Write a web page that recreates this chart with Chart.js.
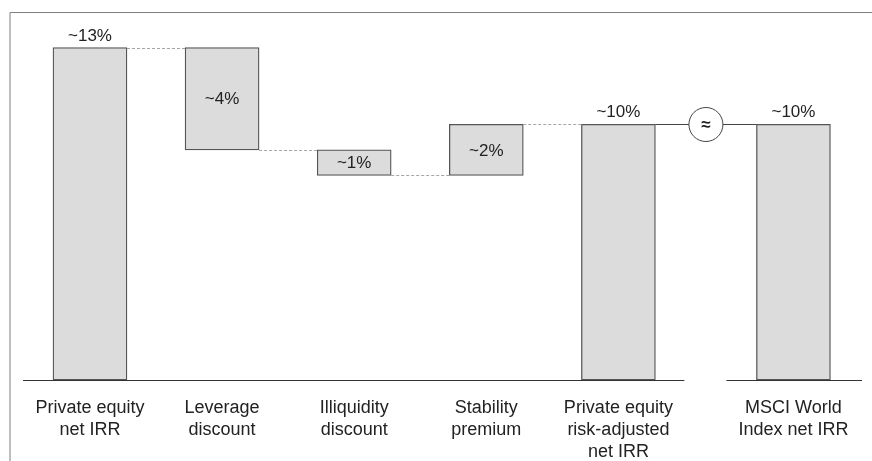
<!DOCTYPE html>
<html>
<head>
<meta charset="utf-8">
<script src="https://cdn.jsdelivr.net/npm/chart.js@4.4.1/dist/chart.umd.min.js"></script>
<style>
  html, body { margin: 0; padding: 0; background: #fff; }
  #wrap { width: 872px; height: 461px; }
</style>
</head>
<body>
<div id="wrap"><canvas id="irrChart" width="872" height="461"></canvas></div>
<script>
const categories = [
  ['Private equity', 'net IRR'],
  ['Leverage', 'discount'],
  ['Illiquidity', 'discount'],
  ['Stability', 'premium'],
  ['Private equity', 'risk-adjusted', 'net IRR'],
  ['MSCI World', 'Index net IRR']
];
// x position of each bar (the MSCI bar sits a bit further out)
const positions = [0, 1, 2, 3, 4, 5.325];
const barStarts = [0, 13, 9, 8, 0, 0];
const barEnds = [13, 9, 8, 10, 10, 10];
const valueLabels = ['~13%', '~4%', '~1%', '~2%', '~10%', '~10%'];
const labelInside = [false, true, true, true, false, false];

const FONT = '"Liberation Sans", Arial, sans-serif';

const waterfallExtras = {
  id: 'waterfallExtras',
  beforeDraw(chart) {
    const ctx = chart.ctx;
    // thin frame at top and left
    ctx.save();
    ctx.strokeStyle = '#7f7f7f';
    ctx.lineWidth = 1;
    ctx.beginPath();
    ctx.moveTo(10, 461);
    ctx.lineTo(10, 12.5);
    ctx.lineTo(872, 12.5);
    ctx.stroke();
    ctx.restore();
  },
  afterDatasetsDraw(chart) {
    const ctx = chart.ctx;
    const y = chart.scales.y;
    const bars = chart.getDatasetMeta(0).data;
    const left = i => bars[i].x - bars[i].width / 2;
    const right = i => bars[i].x + bars[i].width / 2;
    ctx.save();

    // dashed connectors between steps
    ctx.strokeStyle = '#a6a6a6';
    ctx.lineWidth = 1;
    ctx.setLineDash([3, 2]);
    for (let i = 0; i < 4; i++) {
      const py = Math.round(y.getPixelForValue(barEnds[i])) + 0.5;
      ctx.beginPath();
      ctx.moveTo(right(i), py);
      ctx.lineTo(left(i + 1), py);
      ctx.stroke();
    }
    ctx.setLineDash([]);

    // baseline, broken before the benchmark bar
    const by = Math.round(y.getPixelForValue(0)) + 0.5;
    ctx.strokeStyle = '#333';
    ctx.lineWidth = 1.2;
    ctx.beginPath();
    ctx.moveTo(chart.chartArea.left, by);
    ctx.lineTo(right(4) + 29, by);
    ctx.moveTo(left(5) - 30, by);
    ctx.lineTo(chart.chartArea.right, by);
    ctx.stroke();

    // "approximately equal" link
    const ly = Math.round(y.getPixelForValue(barEnds[4])) + 0.5;
    const cx = (right(4) + left(5)) / 2;
    ctx.strokeStyle = '#444';
    ctx.lineWidth = 1;
    ctx.beginPath();
    ctx.moveTo(right(4), ly);
    ctx.lineTo(left(5), ly);
    ctx.stroke();
    ctx.beginPath();
    ctx.arc(cx, ly, 17, 0, Math.PI * 2);
    ctx.fillStyle = '#fff';
    ctx.fill();
    ctx.stroke();
    ctx.fillStyle = '#222';
    ctx.font = 'bold 17px ' + FONT;
    ctx.textAlign = 'center';
    ctx.textBaseline = 'middle';
    ctx.fillText('\u2248', cx, ly + 1);

    // value labels
    ctx.font = '17px ' + FONT;
    ctx.fillStyle = '#222';
    bars.forEach((bar, i) => {
      if (labelInside[i]) {
        const mid = (y.getPixelForValue(barStarts[i]) + y.getPixelForValue(barEnds[i])) / 2;
        ctx.textBaseline = 'middle';
        ctx.fillText(valueLabels[i], bar.x, mid + 1);
      } else {
        ctx.textBaseline = 'alphabetic';
        ctx.fillText(valueLabels[i], bar.x, y.getPixelForValue(barEnds[i]) - 7);
      }
    });
    ctx.restore();
  }
};

const ctx = document.getElementById('irrChart').getContext('2d');
new Chart(ctx, {
  type: 'bar',
  data: {
    datasets: [{
      data: positions.map((x, i) => ({ x: x, y: [barStarts[i], barEnds[i]] })),
      backgroundColor: '#dcdcdc',
      borderColor: '#555',
      borderWidth: 1.3,
      borderSkipped: false,
      barThickness: 74
    }]
  },
  options: {
    responsive: false,
    animation: false,
    layout: { padding: { left: 23, right: 10, top: 22, bottom: 0 } },
    plugins: {
      legend: { display: false },
      tooltip: { enabled: false }
    },
    scales: {
      x: {
        type: 'linear',
        min: -0.507,
        max: 5.844,
        offset: false,
        grid: { display: false, drawTicks: false, offset: false },
        border: { display: false },
        afterBuildTicks: scale => {
          scale.ticks = positions.map(v => ({ value: v }));
        },
        afterFit: scale => {
          scale.height = 81;
        },
        ticks: {
          padding: 17,
          color: '#222',
          font: { family: FONT, size: 18, lineHeight: 1.22 },
          maxRotation: 0,
          autoSkip: false,
          callback: (value, index) => categories[index]
        }
      },
      y: {
        display: false,
        min: 0,
        max: 14
      }
    }
  },
  plugins: [waterfallExtras]
});
</script>
</body>
</html>
